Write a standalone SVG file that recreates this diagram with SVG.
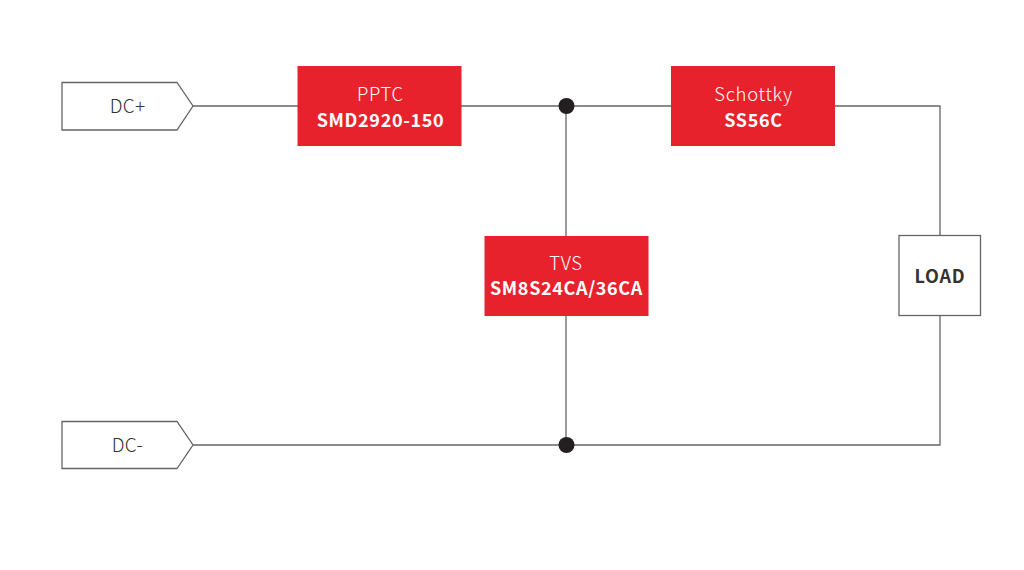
<svg xmlns="http://www.w3.org/2000/svg" width="1024" height="570" viewBox="0 0 1024 570">
<style>
text{font-family:"Noto Sans CJK SC","Noto Sans","Open Sans",sans-serif;text-anchor:middle}
.w{stroke:#666;stroke-width:1.3;fill:none}
.port{fill:#fff;stroke:#666;stroke-width:1.3}
.red{fill:#e8222c}
.t{font-size:18.500px;fill:#fff;font-weight:300;letter-spacing:.7px}
.b{font-size:18px;font-weight:700;fill:#fff;letter-spacing:.65px}
.d{font-size:19px;fill:#333;font-weight:300;letter-spacing:.3px}
.l{font-size:18px;fill:#333;font-weight:700;letter-spacing:.75px}
</style>
<rect width="1024" height="570" fill="#fff"/>
<g id="connectors">
<path class="w" d="M193 106H298M461 106H672M835 106H940V236M566 106V236M566 315V445M193 445H940V316"/>
<circle cx="566.500" cy="106" r="8" fill="#231f20"/>
<circle cx="566.500" cy="445" r="8" fill="#231f20"/>
</g>
<g id="dcplus"><path class="port" d="M62 82.500H177L193 106L177 130H62Z"/><text class="d" x="127.500" y="113">DC+</text></g>
<g id="dcminus"><path class="port" d="M62 421.500H177L193 445L177 468.500H62Z"/><text class="d" x="127.500" y="452">DC-</text></g>
<g id="pptc"><rect class="red" x="297.500" y="66" width="164" height="80"/><text class="t" x="380.500" y="100.500">PPTC</text><text class="b" x="380.500" y="127">SMD2920-150</text></g>
<g id="schottky"><rect class="red" x="671" y="66" width="164" height="80"/><text class="t" x="753.500" y="100.500">Schottky</text><text class="b" x="753.500" y="127">SS56C</text></g>
<g id="tvs"><rect class="red" x="484.500" y="236" width="164" height="80"/><text class="t" x="566" y="269.500">TVS</text><text class="b" x="566.500" y="295">SM8S24CA/36CA</text></g>
<g id="load"><rect class="port" x="899" y="235.500" width="81.500" height="80"/><text class="l" x="940" y="283">LOAD</text></g>
</svg>
